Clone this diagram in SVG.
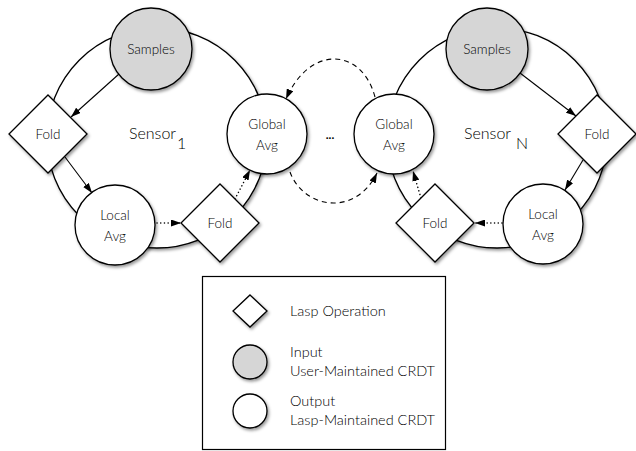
<svg xmlns="http://www.w3.org/2000/svg" width="636" height="451" viewBox="0 0 636 451">
<style>
  .shape { stroke: #000; stroke-width: 1.3; }
  .white { fill: #fff; }
  .gray { fill: #d6d6d6; }
  .lbl { font-family: Lato, "Open Sans", "Liberation Sans", sans-serif; font-weight: 300; font-size: 13.5px; fill: #000; text-anchor: middle; }
  .sensor { font-family: Lato, "Open Sans", "Liberation Sans", sans-serif; font-weight: 300; font-size: 16px; fill: #000; }
  .leg { font-family: Lato, "Open Sans", "Liberation Sans", sans-serif; font-weight: 300; font-size: 14.5px; fill: #000; }
  .solid { fill: none; stroke: #000; stroke-width: 1.1; }
  .dotted { fill: none; stroke: #000; stroke-width: 1.5; stroke-dasharray: 0.1 3.6; stroke-linecap: round; }
  .dashed { fill: none; stroke: #000; stroke-width: 1.1; stroke-dasharray: 5 4; }
</style>
<defs>
  <filter id="sh" x="-20%" y="-20%" width="150%" height="150%">
    <feDropShadow dx="1.5" dy="2" stdDeviation="1.6" flood-color="#000" flood-opacity="0.4"/>
  </filter>
  <marker id="ah" viewBox="0 0 10 7" refX="10" refY="3.5" markerWidth="10" markerHeight="7" markerUnits="userSpaceOnUse" orient="auto">
    <path d="M0,0 L10,3.5 L0,7 z" fill="#000"/>
  </marker>
</defs>

<g id="sensor1">
  <circle class="shape white" cx="157" cy="138" r="110" filter="url(#sh)"/>
  <text class="sensor" x="129" y="139">Sensor</text>
  <text class="sensor" x="177" y="149">1</text>
</g>
<g id="sensorN">
  <circle class="shape white" cx="497" cy="138" r="110" filter="url(#sh)"/>
  <text class="sensor" x="464" y="139">Sensor</text>
  <text class="sensor" x="516" y="149">N</text>
</g>

<g id="connectors">
  <line class="solid" x1="119" y1="74" x2="71" y2="117" marker-end="url(#ah)"/>
  <line class="solid" x1="65" y1="157" x2="92" y2="193" marker-end="url(#ah)"/>
  <line class="dotted" x1="157" y1="223" x2="181" y2="223" marker-end="url(#ah)"/>
  <line class="dotted" x1="235" y1="199" x2="250" y2="170" marker-end="url(#ah)"/>
  <line class="solid" x1="520" y1="73" x2="576" y2="116" marker-end="url(#ah)"/>
  <line class="solid" x1="583" y1="160" x2="565" y2="190" marker-end="url(#ah)"/>
  <line class="dotted" x1="502" y1="223" x2="475" y2="223" marker-end="url(#ah)"/>
  <line class="dotted" x1="421" y1="198" x2="413" y2="171" marker-end="url(#ah)"/>
  <path class="dashed" d="M375,97 C362,48 310,44 286,99" marker-end="url(#ah)"/>
  <path class="dashed" d="M290,172 C303,208 355,218 377,173" marker-end="url(#ah)"/>
</g>

<g id="samples1">
  <circle class="shape gray" cx="151" cy="49" r="41" filter="url(#sh)"/>
  <text class="lbl" x="151" y="54">Samples</text>
</g>
<g id="fold1a">
  <polygon class="shape white" points="48,95 87,134 48,173 9,134" filter="url(#sh)"/>
  <text class="lbl" x="48" y="139">Fold</text>
</g>
<g id="localavg1">
  <circle class="shape white" cx="115" cy="225" r="40" filter="url(#sh)"/>
  <text class="lbl" x="115" y="220">Local</text>
  <text class="lbl" x="115" y="241">Avg</text>
</g>
<g id="fold1b">
  <polygon class="shape white" points="220,184 259,223 220,262 181,223" filter="url(#sh)"/>
  <text class="lbl" x="220" y="228">Fold</text>
</g>
<g id="globalavg1">
  <circle class="shape white" cx="267" cy="134" r="40" filter="url(#sh)"/>
  <text class="lbl" x="267" y="129">Global</text>
  <text class="lbl" x="267" y="150">Avg</text>
</g>

<g id="ellipsis">
  <text class="lbl" x="330" y="139" style="font-weight:bold;font-size:12px">...</text>
</g>

<g id="globalavgN">
  <circle class="shape white" cx="394" cy="134" r="40" filter="url(#sh)"/>
  <text class="lbl" x="394" y="129">Global</text>
  <text class="lbl" x="394" y="150">Avg</text>
</g>
<g id="samplesN">
  <circle class="shape gray" cx="487" cy="49" r="41" filter="url(#sh)"/>
  <text class="lbl" x="487" y="54">Samples</text>
</g>
<g id="foldNa">
  <polygon class="shape white" points="597,95 636,134 597,173 558,134" filter="url(#sh)"/>
  <text class="lbl" x="597" y="139">Fold</text>
</g>
<g id="localavgN">
  <circle class="shape white" cx="543" cy="224" r="40" filter="url(#sh)"/>
  <text class="lbl" x="543" y="219">Local</text>
  <text class="lbl" x="543" y="240">Avg</text>
</g>
<g id="foldNb">
  <polygon class="shape white" points="435,184 474,223 435,262 396,223" filter="url(#sh)"/>
  <text class="lbl" x="435" y="228">Fold</text>
</g>

<g id="legend">
  <rect x="202.5" y="276.5" width="243" height="173" fill="#fff" stroke="#000" stroke-width="1.2"/>
  <polygon class="shape white" points="250,295 267,311 250,327 233,311" filter="url(#sh)"/>
  <text class="leg" x="290" y="316">Lasp Operation</text>
  <circle class="shape gray" cx="250" cy="362" r="17" filter="url(#sh)"/>
  <text class="leg" x="290" y="357">Input</text>
  <text class="leg" x="290" y="376">User-Maintained CRDT</text>
  <circle class="shape white" cx="250" cy="411" r="17" filter="url(#sh)"/>
  <text class="leg" x="290" y="406">Output</text>
  <text class="leg" x="290" y="425">Lasp-Maintained CRDT</text>
</g>
</svg>
